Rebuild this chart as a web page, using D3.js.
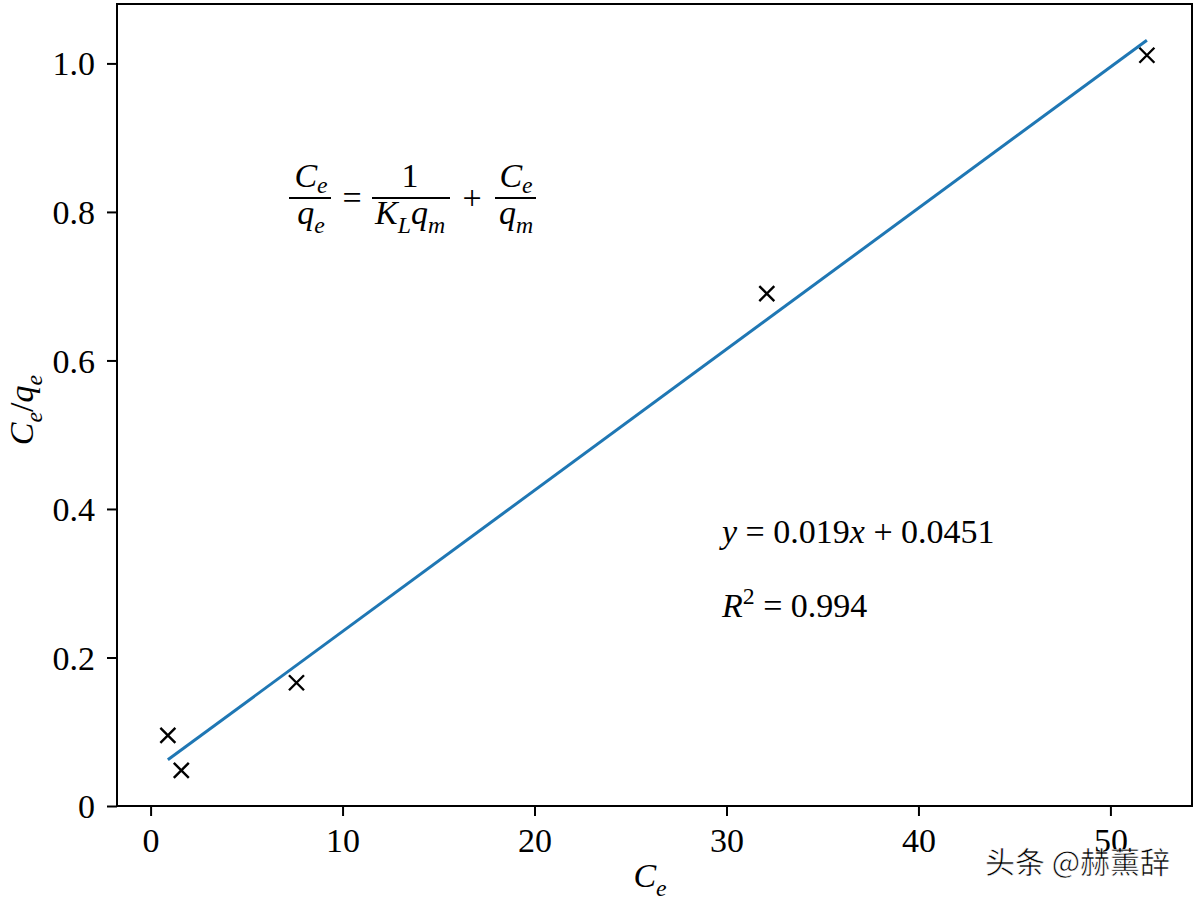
<!DOCTYPE html>
<html>
<head>
<meta charset="utf-8">
<script src="https://cdn.jsdelivr.net/npm/d3@7"></script>
<style>
  body { margin: 0; background: #fff; }
  svg { display: block; }
  text { font-family: "Liberation Serif", "DejaVu Serif", serif; fill: #000; }
</style>
</head>
<body>
<svg id="chart" width="1200" height="905"></svg>
<script>
// data
let ceValues = [0.9, 1.6, 7.6, 32.1, 51.9];
let ratioValues = [0.095, 0.048, 0.166, 0.69, 1.011];
let xTicks = [0, 10, 20, 30, 40, 50];
let yTicks = [0, 0.2, 0.4, 0.6, 0.8, 1.0];
let fitSlope = [0.019];
let fitIntercept = [0.0451];
let fitRange = [0.9, 51.9];

let svg = d3.select("#chart");
let margin = { top: 4, right: 8, bottom: 99, left: 117 };
let width = 1200, height = 905;
let fs = 34;

let x = d3.scaleLinear().domain([-1.75, 54.25]).range([margin.left, width - margin.right]);
let y = d3.scaleLinear().domain([0, 1.08]).range([height - margin.bottom, margin.top]);

// axes
let xAxis = d3.axisBottom(x).tickValues(xTicks).tickSize(10).tickPadding(13)
  .tickFormat(d3.format("d"));
let yAxis = d3.axisLeft(y).tickValues(yTicks).tickSize(10).tickPadding(12)
  .tickFormat(function(d) { return d === 0 ? "0" : d3.format(".1f")(d); });

let xg = svg.append("g").attr("transform", "translate(0," + y.range()[0] + ")").call(xAxis);
let yg = svg.append("g").attr("transform", "translate(" + x.range()[0] + ",0)").call(yAxis);
[xg, yg].forEach(function(g) {
  g.select(".domain").remove();
  g.selectAll(".tick line").attr("stroke", "#000").attr("stroke-width", 2);
  g.selectAll(".tick text").style("font-size", fs + "px").attr("fill", "#000");
});
yg.selectAll(".tick text").attr("dy", "0.34em");
xg.selectAll(".tick text").attr("dy", "0.68em");

// frame
svg.append("rect")
  .attr("x", x.range()[0]).attr("y", y.range()[1])
  .attr("width", x.range()[1] - x.range()[0])
  .attr("height", y.range()[0] - y.range()[1])
  .attr("fill", "none").attr("stroke", "#000").attr("stroke-width", 2);

// fit line
let fitPts = fitRange.map(function(v) { return [v, fitSlope[0] * v + fitIntercept[0]]; });
svg.append("path")
  .datum(fitPts)
  .attr("d", d3.line().x(function(d) { return x(d[0]); }).y(function(d) { return y(d[1]); }))
  .attr("stroke", "#1f77b4").attr("stroke-width", 3).attr("fill", "none");

// markers
let m = 7.5;
svg.selectAll("path.pt")
  .data(ceValues)
  .enter().append("path")
  .attr("class", "pt")
  .attr("d", function(d, i) {
    let cx = x(d), cy = y(ratioValues[i]);
    return "M" + (cx - m) + "," + (cy - m) + "L" + (cx + m) + "," + (cy + m) +
           "M" + (cx - m) + "," + (cy + m) + "L" + (cx + m) + "," + (cy - m);
  })
  .attr("stroke", "#000").attr("stroke-width", 2.4);

// helper: write text parts, sub/sup with shift
function writeParts(t, parts, size, subShift) {
  let shift = 0;
  let sd = subShift === undefined ? size * 0.25 : subShift;
  parts.forEach(function(p) {
    let want = p.sub ? sd : (p.sup ? -size * 0.38 : 0);
    t.append("tspan").text(p.t)
      .attr("dy", want - shift)
      .style("font-size", (p.sub || p.sup ? size * 0.7 : size) + "px")
      .style("font-style", p.i ? "italic" : "normal");
    shift = want;
  });
}

// axis labels
let xl = svg.append("text").attr("x", 650).attr("y", 887).attr("text-anchor", "middle");
writeParts(xl, [{t: "C", i: true}, {t: "e", i: true, sub: true}], fs);

let yl = svg.append("text").attr("transform", "translate(33,410) rotate(-90)").attr("text-anchor", "middle");
writeParts(yl, [{t: "C", i: true}, {t: "e", i: true, sub: true}, {t: "/"},
  {t: "q", i: true}, {t: "e", i: true, sub: true}], fs);

// Langmuir formula
function frac(cx, x0, x1, num, den) {
  let a = svg.append("text").attr("x", cx).attr("y", 187).attr("text-anchor", "middle");
  writeParts(a, num, fs, 6);
  svg.append("line").attr("x1", x0).attr("x2", x1).attr("y1", 198).attr("y2", 198)
    .attr("stroke", "#000").attr("stroke-width", 2);
  let b = svg.append("text").attr("x", cx).attr("y", 224).attr("text-anchor", "middle");
  writeParts(b, den, fs);
}
frac(311, 289, 331, [{t: "C", i: true}, {t: "e", i: true, sub: true}],
  [{t: "q", i: true}, {t: "e", i: true, sub: true}]);
svg.append("text").attr("x", 352).attr("y", 209).attr("text-anchor", "middle").style("font-size", fs + "px").text("=");
frac(410, 372, 450, [{t: "1"}],
  [{t: "K", i: true}, {t: "L", i: true, sub: true}, {t: "q", i: true}, {t: "m", i: true, sub: true}]);
svg.append("text").attr("x", 472).attr("y", 209).attr("text-anchor", "middle").style("font-size", fs + "px").text("+");
frac(516, 495, 536, [{t: "C", i: true}, {t: "e", i: true, sub: true}],
  [{t: "q", i: true}, {t: "m", i: true, sub: true}]);

// regression text
let eq = svg.append("text").attr("x", 722).attr("y", 543);
writeParts(eq, [{t: "y", i: true}, {t: " = 0.019"}, {t: "x", i: true}, {t: " + 0.0451"}], fs);
let r2 = svg.append("text").attr("x", 722).attr("y", 617);
writeParts(r2, [{t: "R", i: true}, {t: "2", sup: true}, {t: " = 0.994"}], fs);

// watermark
svg.append("text").attr("x", 985).attr("y", 873)
  .style("font-family", "'Noto Sans CJK SC', sans-serif")
  .style("font-size", "30px")
  .attr("fill", "#222")
  .attr("stroke", "#fff").attr("stroke-width", 0.6)
  .text("头条 @赫薰辞");
</script>
</body>
</html>
